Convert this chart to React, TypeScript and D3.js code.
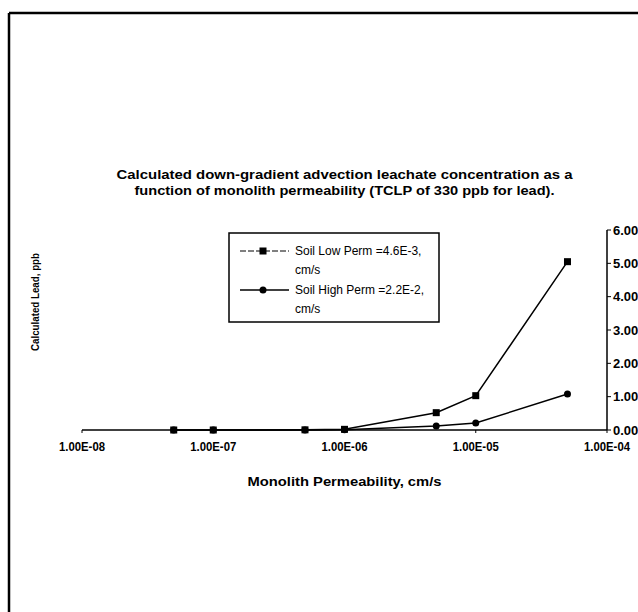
import React from 'react'
import * as d3 from 'd3'

const permeability = [5e-8, 1e-7, 5e-7, 1e-6, 5e-6, 1e-5, 5e-5]
const lowPermLead = [0, 0, 0.005, 0.02, 0.52, 1.03, 5.05]
const highPermLead = [0, 0, 0.003, 0.01, 0.12, 0.21, 1.08]
const xTicks = [1e-8, 1e-7, 1e-6, 1e-5, 1e-4]
const xTickLabels = ['1.00E-08', '1.00E-07', '1.00E-06', '1.00E-05', '1.00E-04']
const yTicks = [0, 1, 2, 3, 4, 5, 6]

const titleLines = [
  'Calculated down-gradient advection leachate concentration as a',
  'function of monolith permeability (TCLP of 330 ppb for lead).',
]
const titleWidths = [456, 420]

const width = 638
const height = 612
const font = 'Liberation Sans, Arial, sans-serif'

const xScale = d3.scaleLog().domain([1e-8, 1e-4]).range([82, 607])
const yScale = d3.scaleLinear().domain([0, 6]).range([430, 230])
const plotCenter = (xScale.range()[0] + xScale.range()[1]) / 2

const line = d3
  .line<number>()
  .x((d, i) => xScale(permeability[i]))
  .y(d => yScale(d))

function Square({ x, y }: { x: number; y: number }) {
  return <rect x={x - 3.5} y={y - 3.5} width={7} height={7} fill="black" />
}

function Dot({ x, y }: { x: number; y: number }) {
  return <circle cx={x} cy={y} r={3.5} fill="black" />
}

export default function App() {
  const x0 = xScale.range()[0]
  const x1 = xScale.range()[1]
  const y0 = yScale(0)
  return (
    <svg
      width={width}
      height={height}
      style={{ position: 'absolute', left: 0, top: 0, background: 'white' }}
      fontFamily={font}
    >
      {/* scanned page frame */}
      <line x1={9} x2={9} y1={13} y2={height} stroke="black" strokeWidth={2.5} />
      <line x1={9} x2={width} y1={13} y2={13} stroke="black" strokeWidth={2.5} />

      {titleLines.map((t, i) => (
        <text
          key={i}
          x={plotCenter - titleWidths[i] / 2}
          y={179 + i * 16}
          fontSize={12}
          fontWeight="bold"
          textLength={titleWidths[i]}
          lengthAdjust="spacingAndGlyphs"
        >
          {t}
        </text>
      ))}

      {/* x axis */}
      <line x1={x0} x2={x1} y1={y0} y2={y0} stroke="black" strokeWidth={1.5} />
      {xTicks.map((t, i) => (
        <g key={t}>
          <line x1={xScale(t)} x2={xScale(t)} y1={y0} y2={y0 + 3} stroke="black" />
          <text
            x={xScale(t) - 23}
            y={y0 + 21}
            fontSize={12}
            fontWeight="bold"
            textLength={46}
            lengthAdjust="spacingAndGlyphs"
          >
            {xTickLabels[i]}
          </text>
        </g>
      ))}
      <text
        x={plotCenter - 97}
        y={486}
        fontSize={13}
        fontWeight="bold"
        textLength={194}
        lengthAdjust="spacingAndGlyphs"
      >
        Monolith Permeability, cm/s
      </text>

      {/* right y axis */}
      <line x1={x1} x2={x1} y1={yScale(6)} y2={y0} stroke="black" strokeWidth={1.5} />
      {yTicks.map(t => (
        <g key={t}>
          <line x1={x1} x2={x1 + 4} y1={yScale(t)} y2={yScale(t)} stroke="black" />
          <text x={x1 + 6} y={yScale(t) + 4.5} fontSize={13} fontWeight="bold">
            {t.toFixed(2)}
          </text>
        </g>
      ))}
      <text
        transform={`translate(39, 302) rotate(-90)`}
        textAnchor="middle"
        fontSize={11}
        fontWeight="bold"
        textLength={98}
        lengthAdjust="spacingAndGlyphs"
      >
        Calculated Lead, ppb
      </text>

      {/* series */}
      <path d={line(highPermLead) || ''} fill="none" stroke="black" strokeWidth={1.5} />
      <path d={line(lowPermLead) || ''} fill="none" stroke="black" strokeWidth={1.5} />
      {highPermLead.map((v, i) => (
        <Dot key={'h' + i} x={xScale(permeability[i])} y={yScale(v)} />
      ))}
      {lowPermLead.map((v, i) => (
        <Square key={'l' + i} x={xScale(permeability[i])} y={yScale(v)} />
      ))}

      {/* legend */}
      <rect x={229} y={233} width={210} height={89} fill="white" stroke="black" strokeWidth={1.5} />
      <line x1={240} x2={289} y1={251} y2={251} stroke="black" strokeDasharray="6 2" />
      <Square x={263} y={251} />
      <text x={295} y={255} fontSize={12}>Soil Low Perm =4.6E-3,</text>
      <text x={295} y={274} fontSize={12}>cm/s</text>
      <line x1={240} x2={289} y1={290} y2={290} stroke="black" strokeWidth={1.3} />
      <Dot x={263} y={290} />
      <text x={295} y={294} fontSize={12}>Soil High Perm =2.2E-2,</text>
      <text x={295} y={313} fontSize={12}>cm/s</text>
    </svg>
  )
}
